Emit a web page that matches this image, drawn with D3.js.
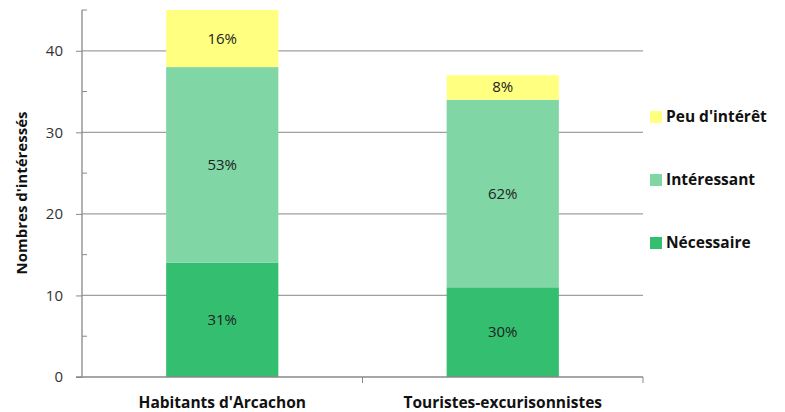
<!DOCTYPE html>
<html>
<head>
<meta charset="utf-8">
<script src="https://cdn.jsdelivr.net/npm/d3@7"></script>
<style>
  body { margin: 0; background: #fff; }
  text { font-family: "Open Sans", "DejaVu Sans", sans-serif; }
</style>
</head>
<body>
<script>
const categories = ["Habitants d'Arcachon", "Touristes-excurisonnistes"];
const series = ["Nécessaire", "Intéressant", "Peu d'intérêt"];
const necessaire = [14, 11];
const interessant = [24, 23];
const peu = [7, 3];
const pctLabels = [["31%", "53%", "16%"], ["30%", "62%", "8%"]];
const yTicks = [0, 10, 20, 30, 40];
const colors = ["#33bf6f", "#80d7a5", "#ffff80"];

const svgW = 785, svgH = 412;
const padL = 82, padR = 643, padT = 10, padB = 377;

const svg = d3.select("body").append("svg")
  .attr("width", svgW)
  .attr("height", svgH);

const rows = categories.map((c, i) => ({
  cat: c, "Nécessaire": necessaire[i], "Intéressant": interessant[i], "Peu d'intérêt": peu[i]
}));
const stacked = d3.stack().keys(series)(rows);

const x = d3.scaleBand().domain(categories).range([padL, padR]).paddingInner(0.6).paddingOuter(0.3);
const y = d3.scaleLinear().domain([0, 45]).range([padB, padT]);

// gridlines
svg.append("g")
  .selectAll("line")
  .data(yTicks.filter(d => d > 0))
  .enter()
  .append("line")
  .attr("x1", padL).attr("x2", padR)
  .attr("y1", d => y(d)).attr("y2", d => y(d))
  .attr("stroke", "#a0a0a0").attr("stroke-width", 1.3);

// bars
stacked.forEach((s, k) => {
  svg.append("g").attr("fill", colors[k])
    .selectAll("rect")
    .data(s)
    .enter()
    .append("rect")
    .attr("x", d => x(d.data.cat))
    .attr("width", x.bandwidth())
    .attr("y", d => y(d[1]))
    .attr("height", d => y(d[0]) - y(d[1]));
});

// labels in bars
stacked.forEach((s, k) => {
  svg.append("g")
    .selectAll("text")
    .data(s)
    .enter()
    .append("text")
    .attr("x", d => x(d.data.cat) + x.bandwidth() / 2)
    .attr("y", d => (y(d[0]) + y(d[1])) / 2 + 5)
    .attr("text-anchor", "middle")
    .style("font-size", "15px")
    .attr("fill", "#222")
    .text((d, i) => pctLabels[i][k]);
});

// y axis
const yAxis = svg.append("g")
  .attr("transform", "translate(" + padL + ",0)")
  .call(d3.axisLeft(y).tickValues(yTicks).tickSize(6).tickPadding(13));
yAxis.select(".domain").remove();
yAxis.selectAll(".tick line").attr("stroke", "#888");
yAxis.selectAll(".tick text").style("font-size", "15px").attr("fill", "#333");
svg.append("line")
  .attr("x1", padL).attr("x2", padL).attr("y1", padT).attr("y2", padB)
  .attr("stroke", "#888").attr("stroke-width", 1.3);
// minor ticks
svg.append("g")
  .selectAll("line")
  .data([5, 15, 25, 35, 45])
  .enter()
  .append("line")
  .attr("x1", padL).attr("x2", padL + 5)
  .attr("y1", d => y(d)).attr("y2", d => y(d))
  .attr("stroke", "#888");

// x axis
svg.append("line")
  .attr("x1", padL - 6).attr("x2", padR).attr("y1", padB).attr("y2", padB)
  .attr("stroke", "#888").attr("stroke-width", 1.3);
const xEdges = [padL + (padR - padL) / 2, padR];
svg.append("g")
  .selectAll("line")
  .data(xEdges)
  .enter()
  .append("line")
  .attr("x1", d => d).attr("x2", d => d)
  .attr("y1", padB).attr("y2", padB + 6)
  .attr("stroke", "#888");
svg.append("g")
  .selectAll("text")
  .data(categories)
  .enter()
  .append("text")
  .attr("x", d => x(d) + x.bandwidth() / 2)
  .attr("y", 408)
  .attr("text-anchor", "middle")
  .style("font-size", "15.5px")
  .style("font-weight", "bold")
  .attr("fill", "#111")
  .text(d => d);

// y title
svg.append("text")
  .attr("transform", "translate(27,193) rotate(-90)")
  .attr("text-anchor", "middle")
  .style("font-size", "15px")
  .style("font-weight", "bold")
  .attr("fill", "#111")
  .text("Nombres d'intéressés");

// legend
const legendY = [243, 180, 117];
series.forEach((s, k) => {
  svg.append("rect")
    .attr("x", 650).attr("y", legendY[k] - 6)
    .attr("width", 12).attr("height", 12)
    .attr("fill", colors[k]);
  svg.append("text")
    .attr("x", 666).attr("y", legendY[k] + 5)
    .style("font-size", "15.5px")
    .style("font-weight", "bold")
    .attr("fill", "#111")
    .text(s);
});
</script>
</body>
</html>
